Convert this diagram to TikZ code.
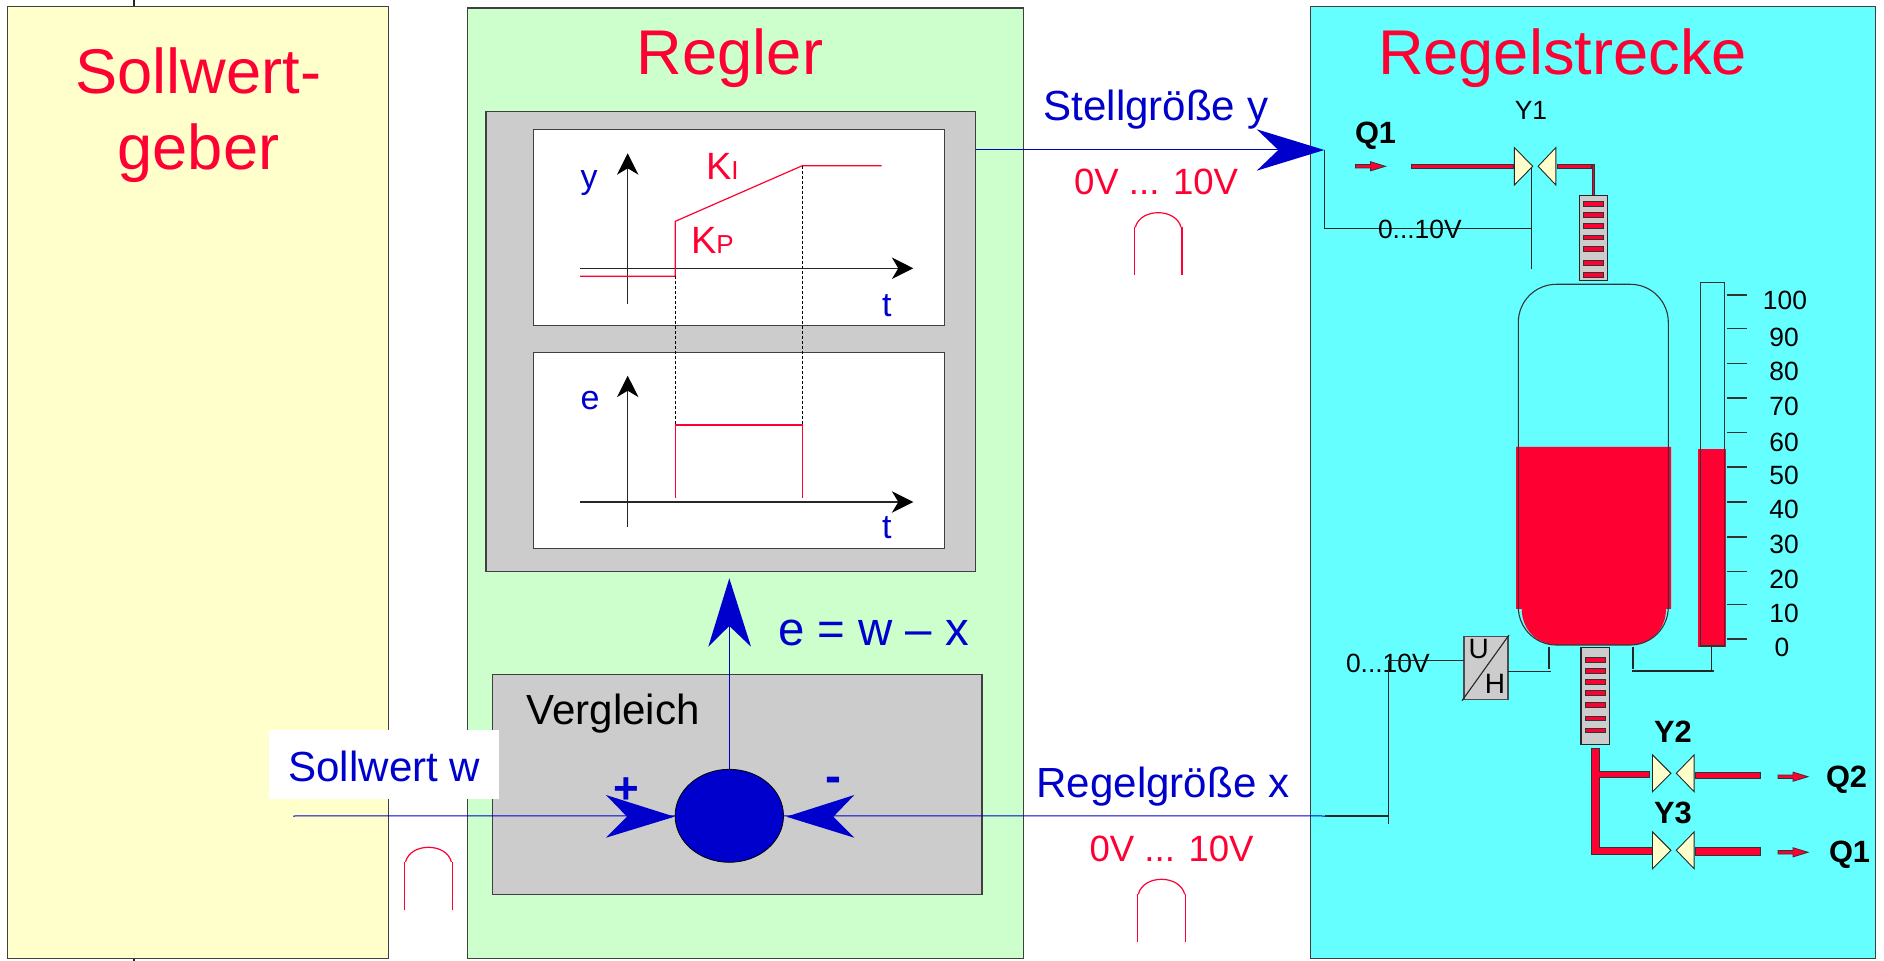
\documentclass[tikz,border=0pt]{standalone}
\usepackage{fontspec}
\usetikzlibrary{shapes.geometric}
\setmainfont{Liberation Sans}
\definecolor{cRed}{HTML}{FF0033}
\definecolor{cBlue}{HTML}{0000CC}
\definecolor{cYellow}{HTML}{FFFFCC}
\definecolor{cGreen}{HTML}{CCFFCC}
\definecolor{cCyan}{HTML}{66FFFF}
\definecolor{cGrey}{HTML}{CCCCCC}
\definecolor{cEdge}{HTML}{404040}
\tikzset{
  blk/.style={draw=cEdge,line width=.65pt,inner sep=0pt,outer sep=0pt},
  sig/.style={draw=cBlue,line width=.5pt},
  wire/.style={draw=black!85,line width=.55pt},
  tick/.style={draw=black!80,line width=.6pt},
  curve/.style={draw=cRed,line width=.6pt},
  axis/.style={draw=black!85,line width=.6pt},
  guide/.style={draw=black,line width=.5pt,dash pattern=on 1.5pt off 1pt},
  head/.style={fill=cBlue,draw=none},
  axhead/.style={fill=black,draw=none},
  pipe/.style={fill=cRed,draw=black!80,line width=.4pt},
  vlv/.style={fill=cYellow,draw=black!85,line width=.45pt},
  hx/.style={fill=cGrey,draw=black!85,line width=.55pt},
  txt/.style={inner sep=0pt,outer sep=0pt},
  ttl/.style={txt,text=cRed,font=\fontsize{31.6}{38.4}\selectfont},
  bl/.style={txt,text=cBlue,font=\fontsize{21.05}{25}\selectfont},
  rd/.style={txt,text=cRed,font=\fontsize{18.3}{22}\selectfont},
  sm/.style={txt,text=black,font=\fontsize{13.2}{16}\selectfont},
  bd/.style={txt,text=black,font=\fontsize{15.4}{18}\bfseries\selectfont},
  ax/.style={txt,text=cBlue,font=\fontsize{17}{20}\selectfont},
}
% name, x1,y1,x2,y2, style (pixel coordinates)
\newcommand\pxbox[6]{%
  \pgfmathsetmacro\bw{(#4-#2)*0.5}\pgfmathsetmacro\bh{(#5-#3)*0.5}%
  \node[blk,#6,anchor=north west,minimum width=\bw pt,minimum height=\bh pt] (#1) at (#2,#3) {};}
\newcommand\pipebar[4]{\path[pipe] (#1,#2) rectangle (#3,#4);}
\newcommand\valve[3]{% x of left base, y of tips, half-height
  \path[vlv] (#1,#2-#3) -- (#1+18.4,#2) -- (#1,#2+#3) -- cycle;
  \path[vlv] (#1+41.6,#2-#3) -- (#1+23.8,#2) -- (#1+41.6,#2+#3) -- cycle;}
\newcommand\smallarrow[2]{% left x, y
  \path[pipe] (#1,#2-1.7) -- (#1+15,#2-1.7) -- (#1+15,#2-4.6) -- (#1+30,#2) -- (#1+15,#2+4.6) -- (#1+15,#2+1.7) -- (#1,#2+1.7) -- cycle;}
\newcommand\bump[5]{% x1 x2 top straight bottom
  \draw[curve] (#1,#5) -- (#1,#4);
  \draw[curve] (#2,#5) -- (#2,#4);
  \draw[curve] (#1+1,#4) .. controls (#1+6,#3-#4/3+#3/3) and (#2-6,#3-#4/3+#3/3) .. (#2-1,#4);}
\newcommand\upaxis[3]{% x, tip y, bottom y
  \draw[axis] (#1,#3) -- (#1,#2+10);
  \path[axhead] (#1,#2) -- (#1+10.8,#2+21.5) -- (#1,#2+15) -- (#1-10.8,#2+21.5) -- cycle;}
\newcommand\raxis[3]{% left x, tip x, y
  \draw[axis] (#1,#3) -- (#2-10,#3);
  \path[axhead] (#2,#3) -- (#2-21.5,#3+10.8) -- (#2-15,#3) -- (#2-21.5,#3-10.8) -- cycle;}
\begin{document}
\begin{tikzpicture}[x=0.5pt,y=-0.5pt]
\useasboundingbox (0,0) rectangle (1884,961);
\fill[white] (0,0) rectangle (1884,961);

% outer blocks
\draw[wire] (134,0) -- (134,961);
\pxbox{geber}{7.5}{6.5}{388.5}{958.5}{fill=cYellow}
\pxbox{regler}{467.5}{8}{1023.3}{958.5}{fill=cGreen}
\pxbox{strecke}{1310.3}{6.5}{1875.5}{958.5}{fill=cCyan}

% titles
\node[ttl,anchor=base,align=center] (tGeber) at (198.5,170) {Sollwert-\\geber};
\node[ttl,anchor=base] (tRegler) at (730,74.5) {Regler};
\node[ttl,anchor=base west] (tStrecke) at (1378,74.5) {Regelstrecke};

% controller block
\pxbox{ctrl}{486}{111.3}{975.7}{571.7}{fill=cGrey}
\pxbox{plotY}{533.7}{129.7}{944.3}{325.3}{fill=white}
\pxbox{plotE}{533.7}{352.7}{944.3}{548.3}{fill=white}
\upaxis{627.7}{153.3}{304}
\raxis{580}{913.3}{268.3}
\upaxis{627.7}{375.7}{526.7}
\raxis{580}{913.3}{502}
\draw[curve] (580,276.3) -- (675.3,276.3) -- (675.3,221.3) -- (802.3,165.7) -- (881.7,165.7);
\draw[curve] (675.3,498.3) -- (675.3,425) -- (802.3,425) -- (802.3,498.3);
\draw[guide] (675.3,276.3) -- (675.3,425);
\draw[guide] (802.3,165.7) -- (802.3,425);
\node[ax,anchor=base west] (lY) at (580.7,188.3) {y};
\node[ax,anchor=base west] (lE) at (580.7,409.3) {e};
\node[ax,anchor=base west] (lT1) at (882,316.7) {t};
\node[ax,anchor=base west] (lT2) at (882,539) {t};
\node[txt,text=cRed,anchor=base west,font=\fontsize{19}{22}\selectfont] (kI) at (706,179.3) {K\fontsize{13}{14}\selectfont I};
\node[txt,text=cRed,anchor=base west,font=\fontsize{19}{22}\selectfont] (kP) at (691,253.3) {K\fontsize{13}{14}\selectfont P};

% comparator
\pxbox{verg}{492.7}{674.3}{982}{894.3}{fill=cGrey}
\node[txt,anchor=base west,font=\fontsize{21.05}{25}\selectfont] (tVerg) at (526.6,725) {Vergleich};
\node[fill=white,inner sep=0pt,outer sep=0pt,minimum width=115pt,minimum height=34.7pt,anchor=north west] (wBox) at (268.7,730) {};
\node[bl,anchor=base west] (tW) at (288.5,781.5) {Sollwert w};
\node[draw=black,line width=.4pt,fill=cBlue,ellipse,inner sep=0pt,outer sep=0pt,minimum width=54.2pt,minimum height=46.5pt] (cmp) at (729.3,815.8) {};
\coordinate (wStart) at (293,816);
\coordinate (xEnd) at (1325,816);
\coordinate (xJoin) at (1388.8,816);
\draw[sig] (wStart) -- (cmp.west);
\draw[sig] (cmp.east) -- (xEnd);
\draw[sig] (cmp.north) -- (729.3,626);
\path[head] (674.5,816.7) -- (606,795) -- (627,816.7) -- (606,837.7) -- cycle;
\path[head] (786.4,816.7) -- (854.3,795) -- (833.4,816.7) -- (854.3,837.7) -- cycle;
\path[head] (729.3,578.3) -- (751,646.7) -- (729.3,626) -- (708.3,646.7) -- cycle;
\node[txt,text=cBlue,anchor=base,font=\fontsize{22}{26}\bfseries\selectfont] (plus) at (626,803) {+};
\node[txt,text=cBlue,anchor=base,font=\fontsize{24}{28}\bfseries\selectfont] (minus) at (833.7,792.7) {-};
\node[txt,text=cBlue,anchor=base west,font=\fontsize{23.7}{28}\selectfont] (eqn) at (778,645.5) {e = w – x};

% manipulated variable
\coordinate (yTip) at (1324.3,150);
\draw[sig] (ctrl.east |- yTip) -- (1278.3,150);
\path[head] (yTip) -- (1256.7,129.3) -- (1278.3,150) -- (1256.7,170.7) -- cycle;
\node[bl,anchor=base west] (tStell) at (1043.5,120.7) {Stellgröße y};
\node[rd,anchor=base west] (v1) at (1074,195) {0V ... 10V};
\node[bl,anchor=base west] (tRegel) at (1036.5,797.3) {Regelgröße x};
\node[rd,anchor=base west] (v2) at (1089.5,861) {0V ... 10V};
\bump{1134.3}{1182}{212.7}{227.3}{275}
\bump{1137.3}{1185.7}{879.3}{894.3}{941.7}
\bump{404.5}{452.4}{847.3}{862}{910}

% wiring in the plant
\coordinate (y1Top) at (1531.8,166.7);
\coordinate (y1Bot) at (1531.8,269.3);
\draw[wire] (yTip) -- (1324.3,228.7) -- (1531.8,228.7);
\draw[wire] (y1Top) -- (y1Bot);
\node[sm,anchor=base west] (v3) at (1378,238.7) {0...10V};
\node[sm,anchor=base] (y1) at (1531,119.3) {Y1};
\node[bd,anchor=base west] (q1a) at (1355,143.3) {Q1};
\smallarrow{1355.4}{166.3}
\pipebar{1411.4}{164.3}{1513}{168.7}
\valve{1514.3}{166.3}{18.8}
\pipebar{1557}{164.3}{1591}{168.7}
\pipebar{1592}{164}{1594.6}{195.3}
% upper heat exchanger
\pxbox{hxA}{1579.3}{195.3}{1607.5}{280.3}{hx,fill=cGrey}
\foreach \yy in {203.7,214.7,226,237.3,248.7,263,275}{\pipebar{1583}{\yy-2.3}{1603.6}{\yy+2.3}}

% vessel
\fill[cRed] (1516,447) -- (1671,447) -- (1671,609) -- (1666,609)
  .. controls (1666,630) and (1650,645) .. (1630,645) -- (1558,645)
  .. controls (1537,645) and (1522,630) .. (1521.7,609) -- (1516,609) -- cycle;
\draw[draw=black!80,line width=.55pt,rounded corners=19pt] (1518.3,284.3) rectangle (1668.3,645);
% level gauge
\fill[cRed] (1698,449) rectangle (1726,647);
\draw[draw=black!80,line width=.6pt] (1700.3,282.7) rectangle (1724.3,646);
\foreach \yy/\lab/\by/\cx in {295/100/310/1785,328.7/90/346.7/1784,363.7/80/381/1784,398/70/415.7/1784,432.7/60/451.7/1784,467/50/485/1784,502/40/519/1784,537/30/553.3/1784,571.3/20/589/1784,604.7/10/622.7/1784,639/0/656.7/1782}{
  \draw[tick] (1726.7,\yy) -- (1747,\yy);
  \node[sm,anchor=base] (sc\lab) at (\cx,\by) {\lab};
}

% transducer
\pxbox{uh}{1464}{636.7}{1508}{699.3}{fill=cGrey,draw=black!70}
\draw[wire] (1462,700.7) -- (1509,635);
\node[txt,anchor=base,font=\fontsize{14}{17}\selectfont] (lU) at (1478.7,658.3) {U};
\node[txt,anchor=base,font=\fontsize{14}{17}\selectfont] (lH) at (1495,694) {H};
\node[sm,anchor=base west] (v4) at (1346,672.7) {0...10V};
\coordinate (uhIn) at (1388.8,660.3);
\draw[wire] (xEnd) -- (xJoin);
\draw[wire] (1388.8,824.3) -- (uhIn) -- (uh.west |- uhIn);
\coordinate (uhOut) at (1551,671.7);
\draw[wire] (uh.east |- uhOut) -- (uhOut);
\coordinate (tankTapA) at (1549,646.7);
\draw[wire] (tankTapA) -- (1549,669.3);
\coordinate (tankTapB) at (1633,646.7);
\coordinate (gaugeTap) at (1711.6,647);
\draw[wire] (tankTapB) -- (1633,669.3);
\draw[wire] (gaugeTap) -- (1711.6,670);
\draw[wire] (1632,671) -- (1714,671);

% lower heat exchanger and outlets
\pxbox{hxB}{1581}{647.7}{1609.4}{744.3}{hx,fill=cGrey}
\foreach \yy in {659.7,671,681.7,693,704.7,718.3,730.3}{\pipebar{1585}{\yy-2.3}{1605}{\yy+2.3}}
\path[fill=cRed,draw=black!80,line width=.4pt] (1591,748.3) -- (1599.3,748.3) -- (1599.3,771) -- (1649.4,771) -- (1649.4,777.7) -- (1599.3,777.7) -- (1599.3,847.7) -- (1655,847.7) -- (1655,854.3) -- (1591,854.3) -- cycle;
\valve{1652.5}{773.3}{18.4}
\valve{1652.5}{850.3}{18.4}
\pipebar{1695.5}{772.7}{1760.5}{778.3}
\pipebar{1695}{847.7}{1760.5}{855.7}
\smallarrow{1778}{776.7}
\smallarrow{1778}{852.3}
\node[bd,anchor=base] (y2) at (1673,742.3) {Y2};
\node[bd,anchor=base] (y3) at (1673,823.3) {Y3};
\node[bd,anchor=base west] (q2) at (1826,787.3) {Q2};
\node[bd,anchor=base west] (q1b) at (1829,862.7) {Q1};
\end{tikzpicture}
\end{document}
